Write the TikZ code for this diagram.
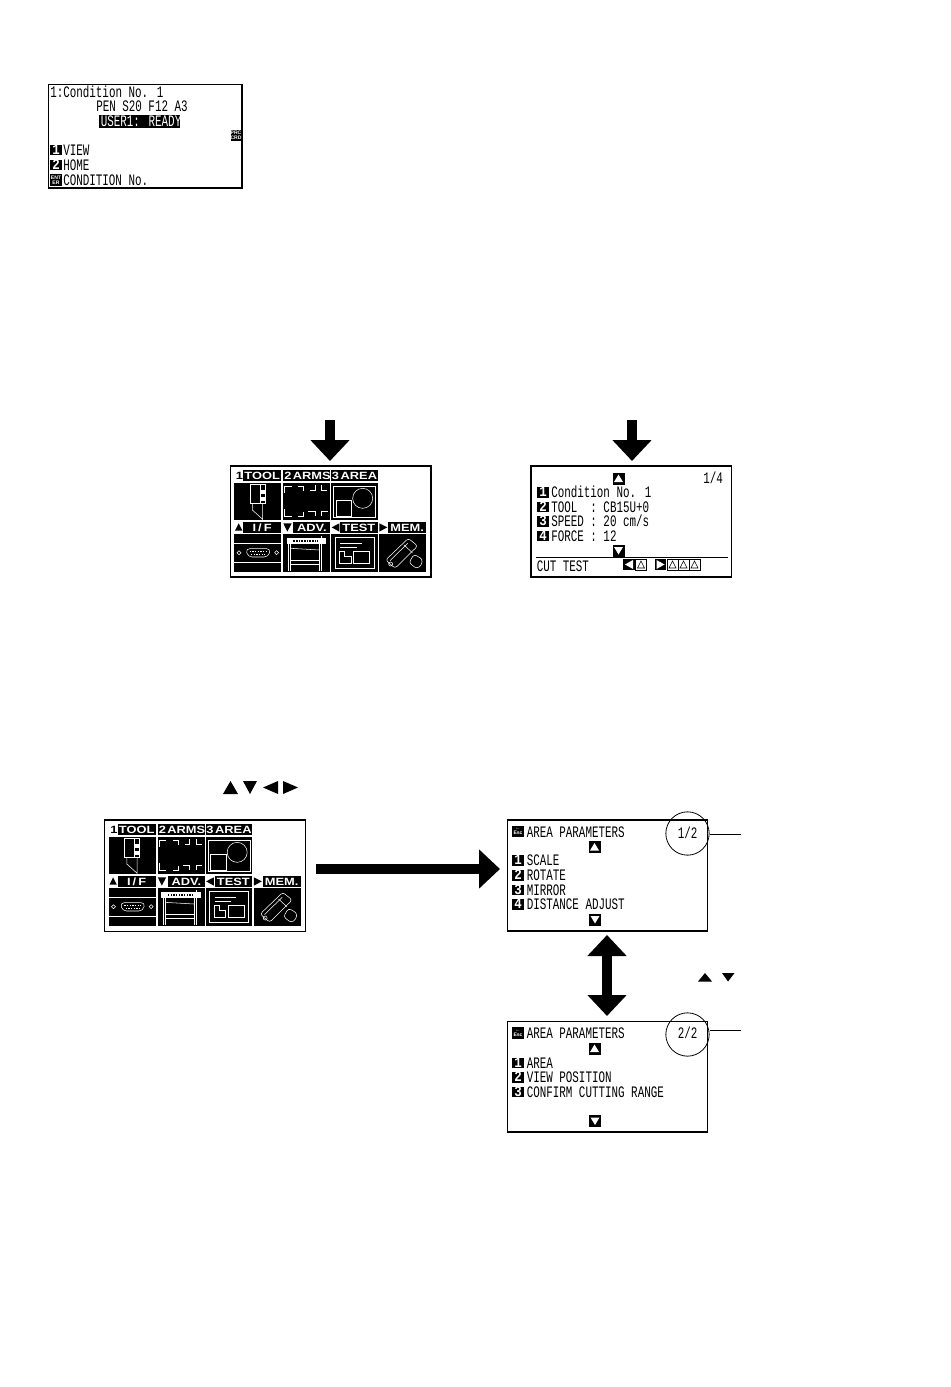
\documentclass[tikz,border=0pt]{standalone}
\usepackage{fontspec}
\usetikzlibrary{arrows.meta,fit,calc}
\newfontfamily\lcdf[FakeStretch=0.68]{Liberation Mono}
\newfontfamily\lcdb[FakeStretch=0.85]{Liberation Mono Bold}
\newfontfamily\widef[FakeStretch=1.22]{Liberation Sans Bold}
\newfontfamily\tinyf{Liberation Sans Bold}
\tikzset{
  lcd/.style={anchor=base west,inner sep=0pt,yshift=-0.4pt,font=\lcdf\fontsize{12}{14}\selectfont},
  lcdw/.style={lcd,text=white},
  numb/.style={fill=black,text=white,inner sep=0pt,minimum width=9pt,minimum height=8pt,text height=6.2pt,text depth=0pt,font=\lcdb\fontsize{11}{11}\selectfont},
  icon/.style={fill=black,text=white,inner sep=0pt,minimum width=9pt,minimum height=8.5pt,align=center,font=\tinyf\fontsize{3.8}{3.8}\selectfont},
  framebox/.style={draw=black,line width=0.8pt,inner sep=0pt},
  btn/.style={fill=black,inner sep=0pt,minimum width=9pt,minimum height=9pt},
  mlab/.style={text=white,inner sep=0pt,font=\widef\fontsize{7.9}{7.9}\selectfont},
  panel/.style={fill=black,draw=none},
  pline/.style={draw=white,line width=0.4pt},
  bigarrow/.style={line width=7.5pt,-{Triangle[length=15.75pt,width=28.5pt]},draw=black},
  bigboth/.style={line width=7.5pt,{Triangle[length=15.75pt,width=28.5pt]}-{Triangle[length=15.75pt,width=28.5pt]},draw=black},
  thinl/.style={draw=black,line width=0.5pt},
  ringc/.style={draw=black,line width=0.6pt,circle,inner sep=0pt,minimum size=32.5pt}
}
\newcommand{\framenode}[5]{\node[framebox,fit={(#2,#3)(#4,#5)}] (#1) {};}
\newcommand{\lcdt}[4]{\node[lcd] (#1) at (#2,#3) {#4};}
\newcommand{\nbox}[4]{\node[numb] (#1) at (#2,#3) {#4};}
\newcommand{\upb}[3]{\node[btn] (#1) at (#2,#3) {};\fill[white] ($(#1.center)+(-4.5,3.5)$) -- ($(#1.center)+(4.5,3.5)$) -- ($(#1.center)+(0,-4)$) -- cycle;}
\newcommand{\dnb}[3]{\node[btn] (#1) at (#2,#3) {};\fill[white] ($(#1.center)+(-4.5,-3.5)$) -- ($(#1.center)+(4.5,-3.5)$) -- ($(#1.center)+(0,4)$) -- cycle;}
\newcommand{\mlabel}[6]{\fill[black] (#2,#3) rectangle (#4,#5);\node[mlab] (#1) at ({(#2+#4)/2},{(#3+#5)/2}) {#6};}
\newcommand{\mnu}[3]{%
\begin{scope}[shift={(#2,#3)},x=0.25pt,y=-0.25pt]
 % row 1 labels
 \node[text=black,inner sep=0pt,font=\widef\fontsize{7.9}{7.9}\selectfont] (#1n1) at (43,197) {1};
 \mlabel{#1l1}{55}{180}{168}{213}{TOOL}
 \mlabel{#1n2}{174}{180}{204}{213}{2}
 \mlabel{#1l2}{204}{180}{316}{213}{ARMS}
 \mlabel{#1n3}{318}{180}{345}{213}{3}
 \mlabel{#1l3}{345}{180}{458}{213}{AREA}
 % row 1 panels
 \fill[panel] (28,220) rectangle (168,330);
 \fill[panel] (174,220) rectangle (316,330);
 \fill[panel] (318,220) rectangle (458,330);
 % tool
 \draw[pline] (75,222) -- (75,280) -- (120,280) -- (120,222) -- cycle;
 \draw[pline] (105,222) -- (105,280);
 \fill[white] (107,240) rectangle (120,252);
 \fill[white] (107,262) rectangle (120,274);
 \draw[pline] (82,280) -- (82,300) -- (113,328) -- (113,280);
 % arms
 \draw[pline] (200,228) -- (178,228) -- (178,250);
 \draw[pline] (220,228) -- (235,228) -- (235,242);
 \draw[pline] (255,240) -- (270,240) -- (270,226);
 \draw[pline] (290,226) -- (290,240) -- (306,240);
 \draw[pline] (178,298) -- (178,318) -- (200,318);
 \draw[pline] (220,318) -- (235,318) -- (235,305);
 \draw[pline] (250,303) -- (270,303) -- (270,318);
 \draw[pline] (308,303) -- (290,303) -- (290,318);
 % area
 \draw[pline] (325,228) rectangle (452,322);
 \draw[pline] (333,270) rectangle (380,318);
 \draw[pline] (413,265) circle (30);
 % row 2 labels
 \fill[black] (30,362) -- (52,362) -- (41,340) -- cycle;
 \mlabel{#1l4}{55}{337}{168}{368}{I\kern1.5pt/\kern1.5pt F}
 \fill[black] (175,340) -- (200,340) -- (187,365) -- cycle;
 \mlabel{#1l5}{205}{337}{316}{368}{ADV.}
 \fill[black] (320,352) -- (343,340) -- (343,365) -- cycle;
 \mlabel{#1l6}{345}{337}{458}{368}{TEST}
 \fill[black] (487,352) -- (463,340) -- (463,365) -- cycle;
 \mlabel{#1l7}{490}{337}{603}{368}{MEM.}
 % row 2 panels
 \fill[panel] (28,372) rectangle (168,486);
 \fill[panel] (174,372) rectangle (316,486);
 \fill[panel] (318,372) rectangle (458,486);
 \fill[panel] (462,372) rectangle (603,486);
 % interface
 \draw[pline] (28,400) -- (168,400);
 \draw[pline] (28,458) -- (168,458);
 \draw[pline,rounded corners=3pt] (62,416) -- (137,416) -- (130,441) -- (69,441) -- cycle;
 \draw[white,line width=1pt,dash pattern=on 1pt off 1pt] (74,425) -- (125,425);
 \draw[white,line width=1pt,dash pattern=on 1pt off 1pt] (78,433) -- (121,433);
 \draw[pline] (36,428) -- (42,422) -- (48,428) -- (42,434) -- cycle;
 \draw[pline] (149,428) -- (155,422) -- (161,428) -- (155,434) -- cycle;
 % plotter
 \fill[white] (185,385) rectangle (303,402);
 \draw[black,line width=0.8pt,dash pattern=on 1.2pt off 0.8pt] (205,393) -- (280,393);
 \fill[white] (288,378) rectangle (292,388);
 \draw[pline] (190,402) -- (190,484);
 \draw[pline] (197,402) -- (197,484);
 \draw[pline] (290,402) -- (290,484);
 \draw[pline] (283,402) -- (283,484);
 \draw[pline] (197,415) -- (283,420);
 \draw[pline] (197,450) -- (283,450);
 \draw[pline] (197,462) -- (283,462);
 % test
 \draw[pline] (330,382) rectangle (447,475);
 \draw[pline] (345,400) -- (410,400);
 \draw[pline] (345,411) -- (395,411);
 \draw[pline] (385,423) rectangle (433,460);
 \draw[pline] (343,424) -- (343,460) -- (378,460) -- (378,438) -- (358,438) -- (358,424) -- cycle;
 % memory
 \draw[pline,rounded corners=2pt] (482,450) -- (550,385) -- (578,408) -- (510,475) -- cycle;
 \draw[pline] (495,452) -- (548,400);
 \draw[pline] (537,405) -- (562,428);
 \draw[pline] (497,462) circle (6);
 \draw[pline,rounded corners=2pt] (567,433) -- (592,447) -- (590,465) -- (575,476) -- (552,458) -- cycle;
\end{scope}}
\begin{document}
\begin{tikzpicture}[x=0.75pt,y=-0.75pt]
\useasboundingbox (0,0) rectangle (950,1387);
\fill[white] (0,0) rectangle (950,1387);

% screen 1
\framenode{scrA}{48.5}{84.5}{242}{188}
\lcdt{a1}{50}{97}{1:Condition No. 1}
\lcdt{a2}{96}{111}{PEN S20 F12 A3}
\node[fill=black,inner sep=0pt,minimum width=60.5pt,minimum height=10pt] (a3b) at (139.5,121.5) {};
\node[lcdw] (a3) at (100.5,126) {USER1: READY};
\node[icon,minimum width=7.5pt] (a4) at (236,135.5) {PRC\\CRD};
\nbox{a5}{56}{150}{1}
\lcdt{a6}{63}{155}{VIEW}
\nbox{a7}{56}{165}{2}
\lcdt{a8}{63}{170}{HOME}
\node[icon] (a9) at (56,180) {ENT\\ER};
\lcdt{a10}{63}{185}{CONDITION No.}

% down arrows
\coordinate (d1s) at (330,420);
\coordinate (d1e) at (330,461);
\coordinate (d2s) at (632,420);
\coordinate (d2e) at (632,461);
\draw[bigarrow] (d1s) -- (d1e);
\draw[bigarrow] (d2s) -- (d2e);

% menu 1
\framenode{scrB}{230.5}{466}{431}{577}
\mnu{m}{225}{410}

% screen 3
\framenode{scrC}{531}{466}{731.5}{577}
\upb{c1}{618.5}{478.5}
\lcdt{c2}{703}{483}{1/4}
\nbox{c3}{543}{492.5}{1}
\lcdt{c4}{551}{497}{Condition No. 1}
\nbox{c5}{543}{507}{2}
\lcdt{c6}{551}{511.5}{TOOL\ \ : CB15U+0}
\nbox{c7}{543}{521.5}{3}
\lcdt{c8}{551}{526}{SPEED : 20 cm/s}
\nbox{c9}{543}{536}{4}
\lcdt{c10}{551}{540.5}{FORCE : 12}
\dnb{c11}{618.5}{550.5}
\coordinate (cl1) at (536,557);
\coordinate (cl2) at (728,557);
\draw[thinl,line width=0.75pt] (cl1) -- (cl2);
\lcdt{c12}{536.5}{570.5}{CUT TEST}
\node[btn,minimum width=8.5pt,minimum height=8.2pt] (c13) at (629,564.5) {};
\fill[white] (625,564.5) -- (633,560) -- (633,569) -- cycle;
\foreach \nm/\cx in {c14/641,c16/672.5,c17/683.5,c18/694.5}{
  \node[draw=black,line width=0.5pt,inner sep=0pt,minimum width=8pt,minimum height=8pt] (\nm) at (\cx,564.5) {};
  \draw[black,line width=0.4pt] (\cx-3.5,568) -- (\cx+3.5,568) -- (\cx,561) -- cycle;
}
\node[btn,minimum width=8.5pt,minimum height=8.2pt] (c15) at (660.5,564.5) {};
\fill[white] (664.5,564.5) -- (656.5,560) -- (656.5,569) -- cycle;

% triangles caption
\fill[black] (223,794) -- (238,794) -- (230.5,781) -- cycle;
\fill[black] (243,781) -- (257,781) -- (250,794) -- cycle;
\fill[black] (263,787.5) -- (278,781) -- (278,794) -- cycle;
\fill[black] (298,787.5) -- (283,781) -- (283,794) -- cycle;

% menu 2
\framenode{scrD}{104.5}{820}{305.5}{931.5}
\mnu{n}{99.5}{764}

% big horizontal arrow
\coordinate (h1s) at (316,869);
\coordinate (h1e) at (500,869);
\draw[bigarrow] (h1s) -- (h1e);

% screen 4
\framenode{scrE}{507.5}{820}{707.5}{931}
\node[icon] (e1) at (518,831.5) {←\\Esc};
\lcdt{e2}{526.5}{837}{AREA PARAMETERS}
\upb{e3}{594.5}{847}
\node[ringc] (e4) at (687.5,833.5) {};
\lcdt{e5}{677.5}{838}{1/2}
\coordinate (e6) at (741,834);
\draw[thinl] (e4.east |- e6) -- (e6);
\nbox{e7}{518}{860.5}{1}
\lcdt{e8}{526.5}{865}{SCALE}
\nbox{e9}{518}{875.5}{2}
\lcdt{e10}{526.5}{880}{ROTATE}
\nbox{e11}{518}{890}{3}
\lcdt{e12}{526.5}{894.5}{MIRROR}
\nbox{e13}{518}{904.5}{4}
\lcdt{e14}{526.5}{909}{DISTANCE ADJUST}
\dnb{e15}{595}{919.5}

% vertical double arrow
\coordinate (vs) at (607,935);
\coordinate (ve) at (607,1016);
\draw[bigboth] (vs) -- (ve);
\fill[black] (698,981.5) -- (712,981.5) -- (705,973) -- cycle;
\fill[black] (722,973) -- (734.5,973) -- (728,981.5) -- cycle;

% screen 5
\framenode{scrF}{507.5}{1021.5}{707.5}{1132}
\node[icon] (f1) at (518,1033) {←\\Esc};
\lcdt{f2}{526.5}{1038}{AREA PARAMETERS}
\upb{f3}{594.5}{1048.5}
\node[ringc] (f4) at (687.5,1034.5) {};
\lcdt{f5}{677.5}{1037.5}{2/2}
\coordinate (f6) at (741,1030);
\coordinate (f7l) at (709.5,1030);
\draw[thinl] (f7l) -- (f6);
\nbox{f7}{518}{1063}{1}
\lcdt{f8}{526.5}{1067.5}{AREA}
\nbox{f9}{518}{1077.5}{2}
\lcdt{f10}{526.5}{1082}{VIEW POSITION}
\nbox{f11}{518}{1092}{3}
\lcdt{f12}{526.5}{1096.5}{CONFIRM CUTTING RANGE}
\dnb{f13}{595}{1121}
\end{tikzpicture}
\end{document}
